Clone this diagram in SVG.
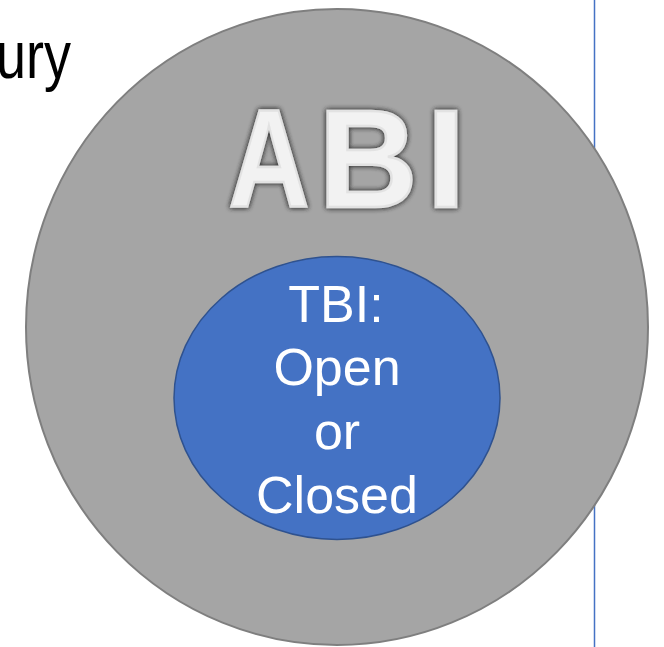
<svg xmlns="http://www.w3.org/2000/svg" width="664" height="647" viewBox="0 0 664 647">
<style>
.frag{font-family:"Liberation Sans",Arial,sans-serif;font-size:54px;fill:#000}
.abi{font-family:"Liberation Sans",Arial,sans-serif;font-weight:bold;font-size:140px;fill:#F2F2F2;stroke:#e2e2e2;stroke-width:2.5}
.tbi{font-family:"Liberation Sans",Arial,sans-serif;font-size:52px;fill:#fff;text-anchor:middle}
</style>
<defs>
<filter id="glow" x="-20%" y="-20%" width="140%" height="140%">
<feGaussianBlur in="SourceAlpha" stdDeviation="2.5" result="b"/>
<feFlood flood-color="#3a3a3a" flood-opacity="0.9"/>
<feComposite in2="b" operator="in" result="s"/>
<feMerge><feMergeNode in="s"/><feMergeNode in="s"/><feMergeNode in="SourceGraphic"/></feMerge>
</filter>
</defs>
<rect width="664" height="647" fill="#fff"/>
<g id="page-text">
<text class="frag" transform="translate(-4,78) scale(1,1.25)">ury</text>
<text class="frag" transform="translate(-24,2) scale(1,1.25)">e</text>
</g>
<g id="connectors">
<line x1="594.5" y1="0" x2="594.5" y2="647" stroke="#4472C4" stroke-width="1.5"/>
</g>
<g id="abi">
<ellipse cx="337" cy="327" rx="311" ry="318" fill="#A5A5A5" stroke="#7F7F7F" stroke-width="2"/>
<g filter="url(#glow)">
<text class="abi" text-anchor="middle" transform="translate(269,207) scale(0.8,1)">A</text>
<text class="abi" text-anchor="middle" transform="translate(368,207) scale(0.98,1)">B</text>
<text class="abi" text-anchor="middle" transform="translate(446,207) scale(1,1)">I</text>
</g>
</g>
<g id="tbi">
<ellipse cx="337" cy="398" rx="163" ry="141.5" fill="#4472C4" stroke="#2F528F" stroke-width="1.5"/>
<text class="tbi" x="336" y="322">TBI:</text>
<text class="tbi" x="337" y="385">Open</text>
<text class="tbi" x="337" y="449">or</text>
<text class="tbi" x="337" y="513">Closed</text>
</g>
</svg>
